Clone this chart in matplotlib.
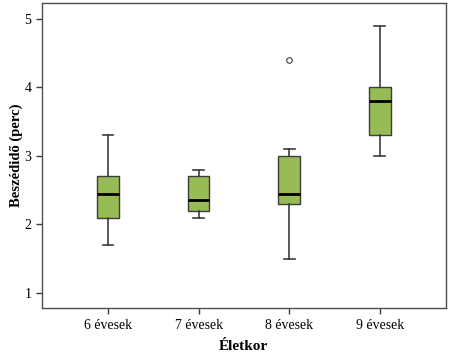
import matplotlib
matplotlib.use("Agg")
import matplotlib.pyplot as plt

categories = ["6 évesek", "7 évesek", "8 évesek", "9 évesek"]
whisker_low = [1.7, 2.1, 1.5, 3.0]
q1 = [2.1, 2.2, 2.3, 3.3]
median = [2.45, 2.35, 2.45, 3.8]
q3 = [2.7, 2.7, 3.0, 4.0]
whisker_high = [3.3, 2.8, 3.1, 4.9]
outliers = [[], [], [4.4], []]
yticks = [1, 2, 3, 4, 5]

plt.rcParams['font.family'] = ['Liberation Serif', 'DejaVu Serif']

fig = plt.figure(figsize=(4.5, 3.6), dpi=100)
ax = fig.add_axes([0.093, 0.144, 0.898, 0.848])

stats = []
for i, c in enumerate(categories):
    stats.append(dict(label=c, whislo=whisker_low[i], q1=q1[i], med=median[i],
                      q3=q3[i], whishi=whisker_high[i], fliers=outliers[i]))

ax.bxp(stats, positions=range(1, len(categories) + 1), widths=0.24,
       patch_artist=True,
       boxprops=dict(facecolor='#97bb55', edgecolor='#3c3c3c', linewidth=1.0),
       medianprops=dict(color='black', linewidth=2.0),
       whiskerprops=dict(color='#3c3c3c', linewidth=1.2),
       capprops=dict(color='#3c3c3c', linewidth=1.2),
       flierprops=dict(marker='o', markersize=4, markerfacecolor='white',
                       markeredgecolor='#3c3c3c', markeredgewidth=0.8),
       capwidths=0.12)

ax.set_xlim(0.27, 4.73)
ax.set_ylim(0.78, 5.23)
ax.set_yticks(yticks)
ax.set_yticklabels([str(v) for v in yticks])
ax.tick_params(axis='both', labelsize=10, length=4, color='#3c3c3c', width=1)
for s in ax.spines.values():
    s.set_color('#505050')
    s.set_linewidth(1.0)

ax.set_xlabel("Életkor", fontsize=11, fontweight='bold', labelpad=6)
ax.set_ylabel("Beszédidő (perc)", fontsize=10.5, fontweight='bold')
ax.yaxis.set_label_coords(-0.047, 0.5)

fig.savefig("out.png", dpi=100)
